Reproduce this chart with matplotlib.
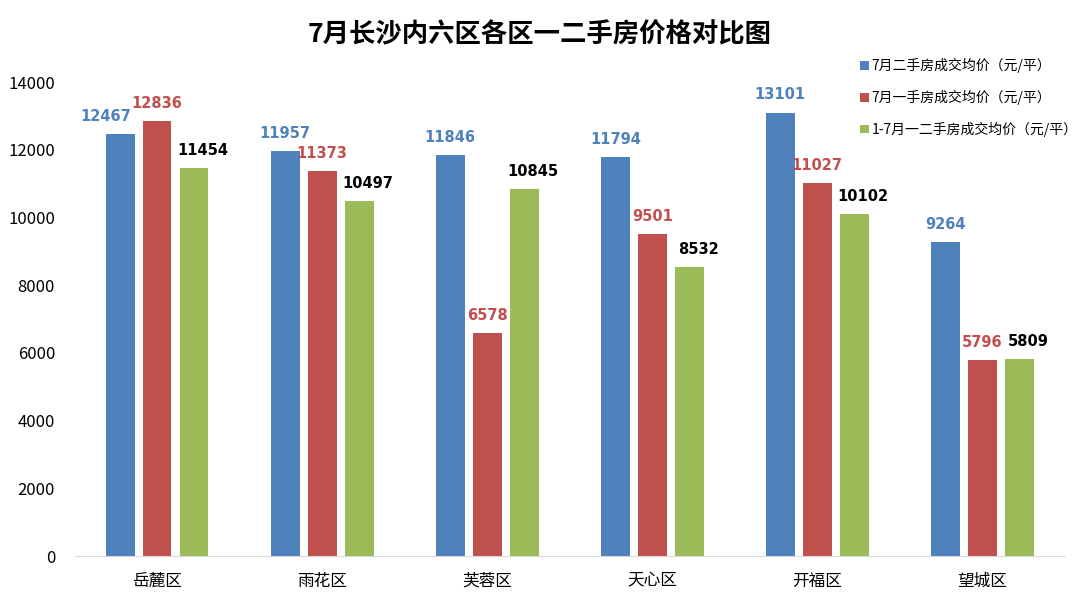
import matplotlib
matplotlib.use('Agg')
import matplotlib.pyplot as plt
import numpy as np

plt.rcParams['font.family'] = ['Noto Sans CJK SC', 'DejaVu Sans']

districts = ['岳麓区', '雨花区', '芙蓉区', '天心区', '开福区', '望城区']
second_hand_jul = [12467, 11957, 11846, 11794, 13101, 9264]
new_house_jul = [12836, 11373, 6578, 9501, 11027, 5796]
second_hand_ytd = [11454, 10497, 10845, 8532, 10102, 5809]
series_names = ['7月二手房成交均价（元/平）', '7月一手房成交均价（元/平）', '1-7月一二手房成交均价（元/平）']

colors = ['#4F81BD', '#C0504D', '#9BBB59']
label_colors = ['#4F81BD', '#C0504D', '#000000']
label_shift = [0.0, 0.0, 0.055]

fig = plt.figure(figsize=(10.8, 6.08), dpi=100)
ax = fig.add_axes([0.069, 0.0855, 0.917, 0.7795])

x = np.arange(len(districts))
w = 0.175
gap = 0.224
all_series = [second_hand_jul, new_house_jul, second_hand_ytd]
handles = []
for i, vals in enumerate(all_series):
    pos = x + (i - 1) * gap
    b = ax.bar(pos, vals, width=w, color=colors[i], label=series_names[i])
    handles.append(b)
    for j, (px, v) in enumerate(zip(pos, vals)):
        dx = label_shift[i]
        if i == 0 and j == 0:
            dx = -0.09  # first label sits left of its bar
        ax.text(px + dx, v + 520, str(v), ha='center', va='center',
                fontsize=10.5, fontweight='bold', color=label_colors[i],
                family='DejaVu Sans')

ax.set_xlim(-0.5, len(districts) - 0.5)
ax.set_ylim(0, 14000)
ax.set_yticks(range(0, 14001, 2000))
ax.set_xticks(x)
ax.set_xticklabels(districts, fontsize=12)
ax.tick_params(axis='y', labelsize=12, length=0, pad=14)
ax.tick_params(axis='x', length=0, pad=12)
for s in ['top', 'right', 'left']:
    ax.spines[s].set_visible(False)
ax.spines['bottom'].set_color('#d9d9d9')

fig.text(0.5, 0.942, '7月长沙内六区各区一二手房价格对比图', ha='center', va='center',
         fontsize=19, fontweight='bold')

fig.legend(handles=handles, loc='upper left', bbox_to_anchor=(0.789, 0.918),
           frameon=False, fontsize=10, handlelength=0.6, handleheight=0.6,
           handletextpad=0.2, labelspacing=1.2, borderpad=0.3, borderaxespad=0.3)

fig.savefig('out.png', dpi=100)
